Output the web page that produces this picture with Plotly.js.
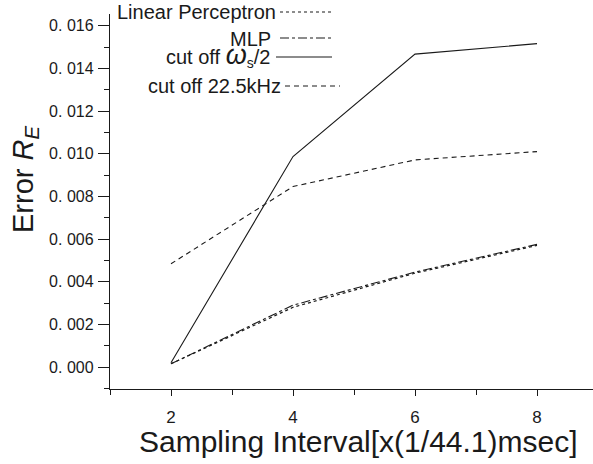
<!DOCTYPE html>
<html>
<head>
<meta charset="utf-8">
<script src="https://cdn.plot.ly/plotly-3.0.1.min.js"></script>
<style>html,body{margin:0;padding:0;background:#fff;}#chart{width:593px;height:464px;}</style>
</head>
<body>
<div id="chart"></div>
<script>
// ---- data ----
var samplingInterval = [2, 4, 6, 8];
var linearPerceptron = [0.00015, 0.0028, 0.0044, 0.0057];
var mlp = [0.00015, 0.0029, 0.00445, 0.00575];
var cutoffHalf = [0.0002, 0.00987, 0.01467, 0.01516];
var cutoff225 = [0.00484, 0.00846, 0.00971, 0.0101];
var seriesNames = ["Linear Perceptron", "MLP", "cut off <i>ω</i><sub>s</sub>/2", "cut off 22.5kHz"];
var yTickVals = [0, 0.002, 0.004, 0.006, 0.008, 0.010, 0.012, 0.014, 0.016];
var yTickText = ["0. 000", "0. 002", "0. 004", "0. 006", "0. 008", "0. 010", "0. 012", "0. 014", "0. 016"];
var xTickVals = [2, 4, 6, 8];
var xTickText = ["2", "4", "6", "8"];

// ---- layout helpers (plot area in pixels) ----
var L = 110, R = 593, T = 14, B = 389;
function px(x) { return (x - L) / (R - L); }
function py(y) { return (B - y) / (B - T); }

var FONT = "Liberation Sans, Arial, sans-serif";
var INK = "#1a1a1a";

var styles = [
  {dash: "dot", width: 1.2},
  {dash: "dashdot", width: 1.1},
  {dash: "solid", width: 1.1},
  {dash: "5px,4px", width: 1.1}
];
var allSeries = [linearPerceptron, mlp, cutoffHalf, cutoff225];

var traces = allSeries.map(function (vals, i) {
  return {
    x: samplingInterval, y: vals, type: "scatter", mode: "lines",
    name: seriesNames[i], showlegend: false,
    line: {color: INK, width: styles[i].width, dash: styles[i].dash}
  };
});

// legend entries drawn as text + sample lines (text right-aligned, sample to the right)
var legendRows = [
  {textRight: 278, yText: 12, x0: 280, x1: 332, yLine: 12},
  {textRight: 273, yText: 39, x0: 280, x1: 332, yLine: 38},
  {textRight: 272, yText: 56, x0: 276, x1: 332, yLine: 57},
  {textRight: 283, yText: 86, x0: 285, x1: 340, yLine: 86}
];
var legendLabels = ["Linear Perceptron", "MLP",
  "cut off <span style=\"font-size:27px\"><i>ω</i></span><sub>s</sub>/2", "cut off 22.5kHz"];

var annotations = legendRows.map(function (r, i) {
  return {
    xref: "paper", yref: "paper", x: px(r.textRight), y: py(r.yText),
    xanchor: "right", yanchor: "middle", showarrow: false,
    text: legendLabels[i], font: {family: FONT, size: 20, color: INK}
  };
});
annotations.push({
  xref: "paper", yref: "paper", x: px(358), y: py(441),
  xanchor: "center", yanchor: "middle", showarrow: false,
  text: "Sampling Interval[x(1/44.1)msec]", font: {family: FONT, size: 30, color: INK}
});
annotations.push({
  xref: "paper", yref: "paper", x: px(25), y: py(180),
  xanchor: "center", yanchor: "middle", showarrow: false, textangle: -90,
  text: "Error <i>R</i><sub><i>E</i></sub>", font: {family: FONT, size: 29, color: INK}
});

var shapes = legendRows.map(function (r, i) {
  return {
    type: "line", xref: "paper", yref: "paper",
    x0: px(r.x0), x1: px(r.x1), y0: py(r.yLine), y1: py(r.yLine),
    line: {color: INK, width: styles[i].width, dash: styles[i].dash}
  };
});

var layout = {
  width: 593, height: 464,
  margin: {l: L, r: 593 - R, t: T, b: 464 - B, pad: 0},
  paper_bgcolor: "#fff", plot_bgcolor: "#fff",
  font: {family: FONT, color: INK},
  showlegend: false,
  xaxis: {
    range: [1, 1 + (R - L) / 61], showgrid: false, zeroline: false,
    showline: true, linecolor: INK, linewidth: 1.2,
    ticks: "outside", ticklen: 6, tickwidth: 1, tickcolor: INK,
    tickvals: xTickVals, ticktext: xTickText,
    ticklabelstandoff: 6,
    tickfont: {family: FONT, size: 17, color: INK},
    minor: {dtick: 2, tick0: 1, ticks: "outside", ticklen: 5, tickcolor: INK, tickwidth: 1, showgrid: false}
  },
  yaxis: {
    range: [-0.00103, 0.01655], showgrid: false, zeroline: false,
    showline: true, linecolor: INK, linewidth: 1.2,
    ticks: "outside", ticklen: 11, tickwidth: 1, tickcolor: INK,
    tickvals: yTickVals, ticktext: yTickText,
    ticklabelstandoff: 1,
    tickfont: {family: FONT, size: 16, color: INK},
    minor: {dtick: 0.001, tick0: 0.001, ticks: "outside", ticklen: 5, tickcolor: INK, tickwidth: 1, showgrid: false}
  },
  annotations: annotations,
  shapes: shapes
};

Plotly.newPlot("chart", traces, layout, {staticPlot: true, displayModeBar: false});
</script>
</body>
</html>
